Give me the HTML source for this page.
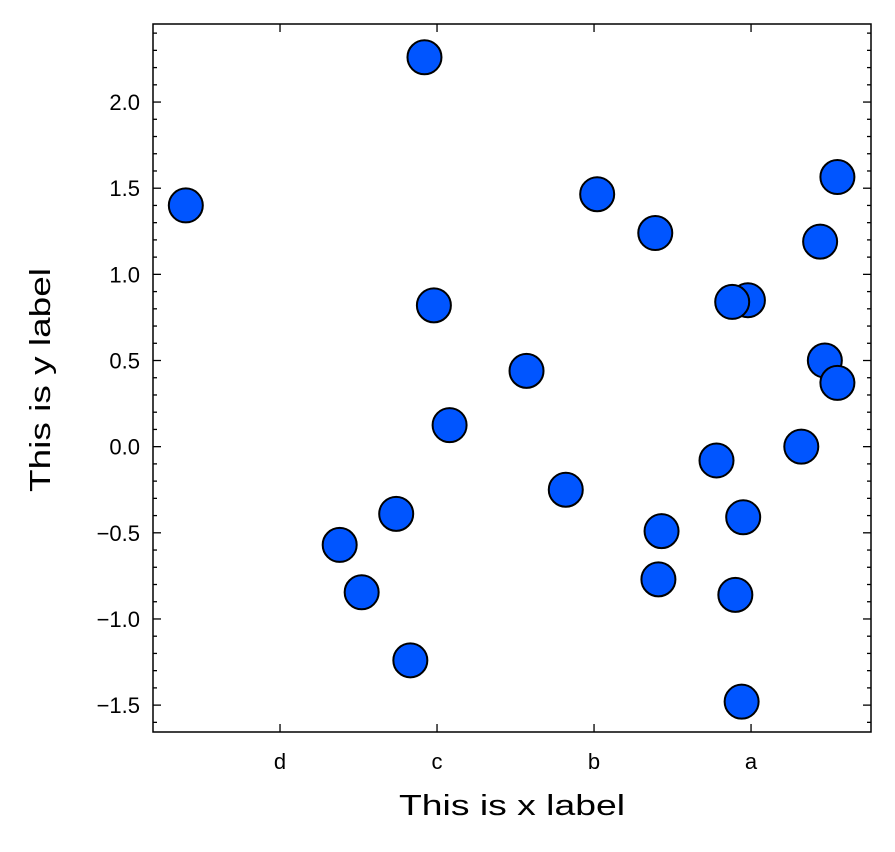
<!DOCTYPE html>
<html><head><meta charset="utf-8"><style>
body{margin:0;background:#fff;}
svg{display:block;font-family:"Liberation Sans",sans-serif;}
</style></head><body>
<svg id="chart" width="895" height="852"></svg>
<script>
const categories=["d","c","b","a"];
const xValues=[-0.60,0.92,0.98,1.08,1.57,1.82,2.02,2.39,2.43,2.41,2.78,2.98,2.88,2.95,2.90,2.94,3.32,3.44,3.55,3.47,3.55,0.38,0.52,0.74,0.83];
const yValues=[1.40,2.26,0.82,0.125,0.44,-0.25,1.465,1.24,-0.49,-0.77,-0.08,0.85,0.84,-0.41,-0.86,-1.48,0.00,1.19,1.565,0.50,0.37,-0.57,-0.845,-0.39,-1.24];
const yTicks=[-1.5,-1.0,-0.5,0.0,0.5,1.0,1.5,2.0];
const yTickLabels=["\u22121.5","\u22121.0","\u22120.5","0.0","0.5","1.0","1.5","2.0"];

const L=153,R=871,T=24,B=732;
const xMin=-0.809,xMax=3.764,yMin=-1.656,yMax=2.453;
const xs=v=>L+(v-xMin)/(xMax-xMin)*(R-L);
const ys=v=>B-(v-yMin)/(yMax-yMin)*(B-T);
const svg=document.getElementById('chart');
const NS="http://www.w3.org/2000/svg";
function mk(tag,attrs,parent){const e=document.createElementNS(NS,tag);for(const k in attrs)e.setAttribute(k,attrs[k]);(parent||svg).appendChild(e);return e;}

for(let i=-17;i<=24;i++){const v=i/10;if(v<yMin||v>yMax)continue;const y=ys(v);const major=i%5===0;const len=major?8:4;
 const t1=mk('line',{x1:L,x2:L+len,y1:y,y2:y,stroke:'#000','stroke-width':1.3});
 
 
 const t2=mk('line',{x1:R,x2:R-len,y1:y,y2:y,stroke:'#000','stroke-width':1.3});
 
 
}
yTicks.forEach((v,i)=>{const t=mk('text',{x:L-13,y:ys(v)+8,'text-anchor':'end','font-size':22});t.textContent=yTickLabels[i];
 
 });
categories.forEach((c,i)=>{const x=xs(i);
 const a=mk('line',{x1:x,x2:x,y1:B,y2:B-8,stroke:'#000','stroke-width':1.3});
 
 
 const b=mk('line',{x1:x,x2:x,y1:T,y2:T+8,stroke:'#000','stroke-width':1.3});
 
 
 const t=mk('text',{x:x,y:B+37,'text-anchor':'middle','font-size':22});t.textContent=c;
 
 });

xValues.forEach((v,i)=>{const c=mk('circle',{cx:xs(v),cy:ys(yValues[i]),r:17,fill:'#0055ff',stroke:'#000','stroke-width':2});
 
 });

const frame=mk('rect',{x:L,y:T,width:R-L,height:B-T,fill:'none',stroke:'#000','stroke-width':1.5});


const xl=mk('text',{x:512,y:815,'text-anchor':'middle','font-size':29,textLength:226,lengthAdjust:'spacingAndGlyphs'});xl.textContent='This is x label';


const yl=mk('text',{x:0,y:0,'text-anchor':'middle','font-size':29,textLength:224,lengthAdjust:'spacingAndGlyphs',transform:'translate(50,380) rotate(-90)'});yl.textContent='This is y label';


</script>
</body></html>
